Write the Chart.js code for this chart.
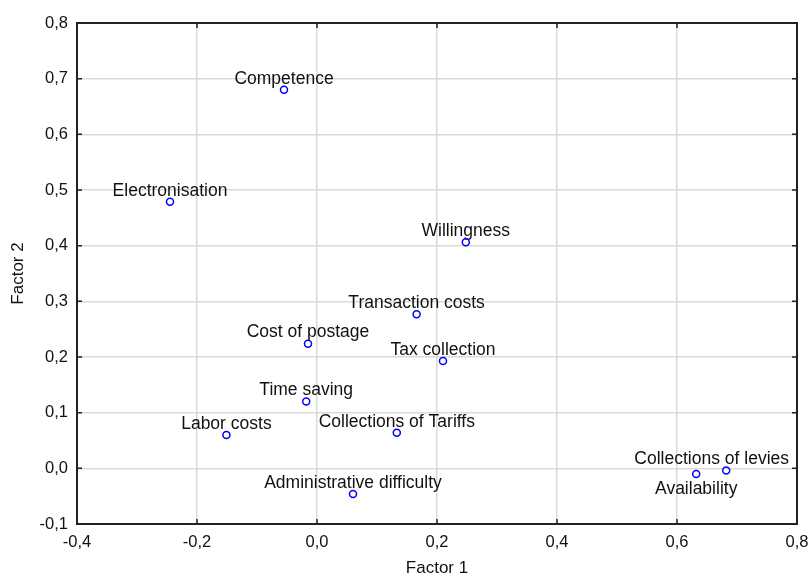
<!DOCTYPE html>
<html>
<head>
<meta charset="utf-8">
<script src="https://cdn.jsdelivr.net/npm/chart.js@4.4.1/dist/chart.umd.min.js"></script>
<style>
    html, body { margin: 0; padding: 0; background: #fff; }
    #wrap { width: 810px; height: 579px; }
</style>
</head>
<body>
<div id="wrap"><canvas id="factores"></canvas></div>
<script>
const names = [
    'Competence',
    'Electronisation',
    'Willingness',
    'Transaction costs',
    'Cost of postage',
    'Tax collection',
    'Time saving',
    'Labor costs',
    'Collections of Tariffs',
    'Administrative difficulty',
    'Collections of levies',
    'Availability'
];
const factor1 = [-0.055, -0.245, 0.248, 0.166, -0.015, 0.210, -0.018, -0.151, 0.133, 0.060, 0.682, 0.632];
const factor2 = [0.680, 0.479, 0.406, 0.277, 0.224, 0.193, 0.120, 0.060, 0.064, -0.046, -0.004, -0.010];
const xTicks = [-0.4, -0.2, 0.0, 0.2, 0.4, 0.6, 0.8];
const yTicks = [-0.1, 0.0, 0.1, 0.2, 0.3, 0.4, 0.5, 0.6, 0.7, 0.8];

const FONT = '"Liberation Sans", Arial, sans-serif';
const fmt = v => (Math.round(v * 10) / 10).toFixed(1).replace('.', ',');

// labels sit above each point (Availability goes under it)
const pointLabels = {
    id: 'pointLabels',
    beforeDatasetsDraw(chart) {
        const { ctx, chartArea } = chart;
        const meta = chart.getDatasetMeta(0);
        ctx.save();
        ctx.font = '17.5px ' + FONT;
        ctx.fillStyle = '#111';
        ctx.textAlign = 'center';
        ctx.textBaseline = 'middle';
        meta.data.forEach((pt, i) => {
            const txt = names[i];
            const w = ctx.measureText(txt).width;
            let x = pt.x;
            if (x + w / 2 > chartArea.right - 8) x = chartArea.right - 8 - w / 2;
            const y = txt === 'Availability' ? pt.y + 15 : pt.y - 11;
            ctx.fillText(txt, x, y);
        });
        ctx.restore();
    }
};

// box frame with small inward ticks on all sides
const frame = {
    id: 'frame',
    afterDatasetsDraw(chart) {
        const { ctx, chartArea: a, scales } = chart;
        const t = 5;
        ctx.save();
        ctx.strokeStyle = '#222';
        ctx.lineWidth = 2;
        ctx.strokeRect(a.left, a.top, a.right - a.left, a.bottom - a.top);
        ctx.lineWidth = 1.5;
        ctx.beginPath();
        xTicks.forEach(v => {
            const x = scales.x.getPixelForValue(v);
            ctx.moveTo(x, a.bottom); ctx.lineTo(x, a.bottom - t);
            ctx.moveTo(x, a.top); ctx.lineTo(x, a.top + t);
        });
        yTicks.forEach(v => {
            const y = scales.y.getPixelForValue(v);
            ctx.moveTo(a.left, y); ctx.lineTo(a.left + t, y);
            ctx.moveTo(a.right, y); ctx.lineTo(a.right - t, y);
        });
        ctx.stroke();
        ctx.restore();
    }
};

const ctx = document.getElementById('factores');

const myChart = new Chart(ctx, {
    type: 'scatter',
    data: {
        datasets: [
            {
                data: factor1.map((x, i) => ({ x: x, y: factor2[i] })),
                pointRadius: 3.5,
                pointHoverRadius: 3.5,
                borderWidth: 1.5,
                borderColor: '#0000ff',
                backgroundColor: 'rgba(0,0,0,0)'
            }
        ]
    },
    options: {
        responsive: true,
        maintainAspectRatio: false,
        animation: false,
        events: [],
        layout: { padding: { top: 23, right: 13, left: 0, bottom: 0 } },
        plugins: {
            legend: { display: false },
            tooltip: { enabled: false }
        },
        scales: {
            x: {
                type: 'linear',
                min: -0.4,
                max: 0.8,
                afterBuildTicks: s => { s.ticks = xTicks.map(v => ({ value: v })); },
                afterFit: s => { s.height = 55; s.paddingLeft = 0; s.paddingRight = 0; },
                grid: { color: '#dadada', lineWidth: 1.5, drawTicks: false },
                border: { display: false },
                ticks: {
                    padding: 9,
                    color: '#111',
                    font: { family: FONT, size: 16.5 },
                    callback: v => fmt(v)
                },
                title: {
                    display: true,
                    text: 'Factor 1',
                    color: '#111',
                    font: { family: FONT, size: 17 },
                    padding: { top: 0, bottom: 0 }
                }
            },
            y: {
                type: 'linear',
                min: -0.1,
                max: 0.8,
                afterBuildTicks: s => { s.ticks = yTicks.map(v => ({ value: v })); },
                afterFit: s => { s.width = 77; s.paddingTop = 0; s.paddingBottom = 0; },
                grid: { color: '#dadada', lineWidth: 1.5, drawTicks: false },
                border: { display: false },
                ticks: {
                    padding: 9,
                    color: '#111',
                    font: { family: FONT, size: 16.5 },
                    callback: v => fmt(v)
                },
                title: {
                    display: true,
                    text: 'Factor 2',
                    color: '#111',
                    font: { family: FONT, size: 17 },
                    padding: { top: 8, bottom: 0 }
                }
            }
        }
    },
    plugins: [pointLabels, frame]
});
</script>
</body>
</html>
